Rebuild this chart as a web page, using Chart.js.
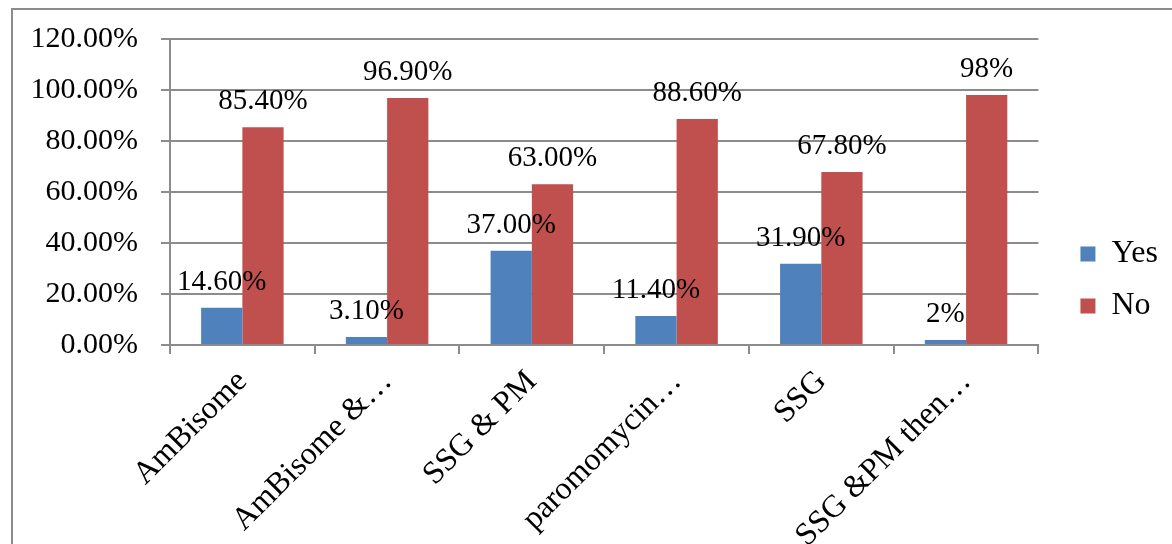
<!DOCTYPE html>
<html>
<head>
<meta charset="utf-8">
<script src="https://cdn.jsdelivr.net/npm/chart.js@4.4.0/dist/chart.umd.min.js"></script>
<style>
    html, body { margin: 0; padding: 0; background: #fff; }
    #frame {
        position: absolute; left: 11px; top: 8px; width: 1161px; height: 536px;
        border-left: 2px solid #8c8c8c; border-top: 2px solid #8c8c8c;
    }
    #holder { position: absolute; left: 0; top: 0; width: 1159px; height: 534px; }
</style>
</head>
<body>
<div id="frame"><div id="holder"><canvas id="treatmentChart"></canvas></div></div>
<script>
const categories = ['AmBisome', 'AmBisome &\u2026', 'SSG & PM', 'paromomycin\u2026', 'SSG', 'SSG &PM then\u2026'];
const yesValues = [14.6, 3.1, 37.0, 11.4, 31.9, 2];
const noValues = [85.4, 96.9, 63.0, 88.6, 67.8, 98];
const yesLabels = ['14.60%', '3.10%', '37.00%', '11.40%', '31.90%', '2%'];
const noLabels = ['85.40%', '96.90%', '63.00%', '88.60%', '67.80%', '98%'];
const yTicks = [0, 20, 40, 60, 80, 100, 120];

const serif = "'Liberation Serif', 'Times New Roman', serif";
const gridColor = '#8c8c8c';

// draw the value text above each bar
const barValueLabels = {
    id: 'barValueLabels',
    afterDatasetsDraw(chart) {
        const ctx = chart.ctx;
        ctx.save();
        ctx.font = '29px ' + serif;
        ctx.fillStyle = '#000';
        ctx.textAlign = 'center';
        ctx.textBaseline = 'alphabetic';
        chart.data.datasets.forEach((ds, i) => {
            const meta = chart.getDatasetMeta(i);
            meta.data.forEach((bar, j) => {
                ctx.fillText(ds.valueLabels[j], bar.x, bar.y - 18);
            });
        });
        ctx.restore();
    }
};

const data = {
    labels: categories,
    datasets: [{
            label: 'Yes',
            data: yesValues,
            valueLabels: yesLabels,
            backgroundColor: '#4F81BD',
        },
        {
            label: 'No',
            data: noValues,
            valueLabels: noLabels,
            backgroundColor: '#C0504D',
        }
    ]
};

const config = {
    type: 'bar',
    data: data,
    options: {
        responsive: true,
        maintainAspectRatio: false,
        animation: false,
        layout: {
            padding: { left: 0, top: 6, right: 4, bottom: 0 }
        },
        datasets: {
            bar: { categoryPercentage: 0.57, barPercentage: 1.0 }
        },
        scales: {
            x: {
                grid: {
                    offset: true,
                    drawOnChartArea: false,
                    drawTicks: true,
                    tickLength: 9,
                    color: gridColor,
                    lineWidth: 2
                },
                border: { color: gridColor, width: 2 },
                ticks: {
                    color: '#000',
                    font: { family: serif, size: 32 },
                    minRotation: 45,
                    maxRotation: 45,
                    autoSkip: false,
                    padding: 9
                },
                afterFit: scale => {
                    scale.height = 199;
                    scale.paddingLeft = 0;
                    scale.paddingRight = 0;
                }
            },
            y: {
                min: 0,
                max: 120,
                afterBuildTicks: scale => {
                    scale.ticks = yTicks.map(v => ({ value: v }));
                },
                grid: {
                    color: gridColor,
                    lineWidth: 2,
                    tickLength: 9
                },
                border: { color: gridColor, width: 2 },
                ticks: {
                    color: '#000',
                    font: { family: serif, size: 30 },
                    padding: 23,
                    callback: v => v.toFixed(2) + '%'
                },
                afterFit: scale => {
                    scale.width = 157;
                    scale.paddingTop = 29;
                    scale.paddingBottom = 0;
                }
            },
            // empty axis, only keeps a gap between the bars and the legend
            gap: {
                position: 'right',
                display: true,
                grid: { display: false },
                border: { display: false },
                ticks: { display: false },
                afterFit: scale => {
                    scale.width = 22;
                }
            }
        },
        plugins: {
            legend: {
                position: 'right',
                labels: {
                    color: '#000',
                    font: { family: serif, size: 32 },
                    boxWidth: 15,
                    boxHeight: 15,
                    padding: 20
                }
            },
            tooltip: { enabled: false }
        }
    },
    plugins: [barValueLabels]
};

const treatmentChart = new Chart('treatmentChart', config);
</script>
</body>
</html>
